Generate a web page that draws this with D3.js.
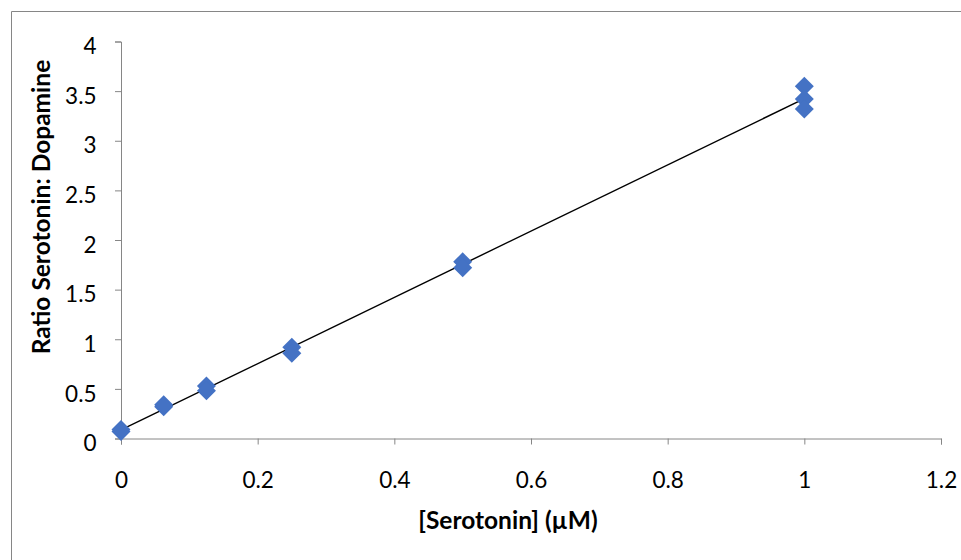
<!DOCTYPE html>
<html>
<head>
<meta charset="utf-8">
<script src="https://cdn.jsdelivr.net/npm/d3@7"></script>
<style>
  html, body { margin: 0; padding: 0; background: #fff; }
  svg { display: block; }
  text { font-family: Lato, "Open Sans", "Liberation Sans", sans-serif; fill: #000; }
</style>
</head>
<body>
<svg id="chart" width="961" height="560"></svg>
<script>
const xValues = [0, 0, 0.0625, 0.0625, 0.125, 0.125, 0.25, 0.25, 0.5, 0.5, 1, 1, 1];
const yValues = [0.07, 0.09, 0.32, 0.34, 0.53, 0.48, 0.92, 0.86, 1.78, 1.72, 3.55, 3.42, 3.32];
const xTicks = [0, 0.2, 0.4, 0.6, 0.8, 1, 1.2];
const yTicks = [0, 0.5, 1, 1.5, 2, 2.5, 3, 3.5, 4];
const xTitle = "[Serotonin] (\u00B5M)";
const yTitle = "Ratio Serotonin: Dopamine";

(function () {
const svg = d3.select("#chart");
const W = 961, H = 560;
const pLeft = 121, pRight = 941, pTop = 41.5, pBottom = 438.5;

// chart border (left and top visible)
svg.append("path")
  .attr("d", `M11.5,${H} V11.5 H${W}`)
  .attr("fill", "none").attr("stroke", "#868686").attr("stroke-width", 1);

const x = d3.scaleLinear().domain([0, 1.2]).range([pLeft, pRight]);
const y = d3.scaleLinear().domain([0, 4]).range([pBottom, pTop]);

const fmt = d => String(+d.toFixed(2));

const xAxis = svg.append("g").attr("transform", `translate(0,${pBottom})`)
  .call(d3.axisBottom(x).tickValues(xTicks).tickFormat(fmt).tickSizeInner(6).tickSizeOuter(6).tickPadding(28));
const yAxis = svg.append("g").attr("transform", `translate(${pLeft},0)`)
  .call(d3.axisLeft(y).tickValues(yTicks).tickFormat(fmt).tickSizeInner(6).tickSizeOuter(6).tickPadding(18.5));

[xAxis, yAxis].forEach(g => {
  g.selectAll("path, line").attr("stroke", "#868686").attr("stroke-width", 1);
  g.selectAll("text").attr("font-size", 22.5).attr("fill", "#000")
    .style("font-family", "Lato, 'Open Sans', sans-serif");
});
yAxis.selectAll("text").attr("y", 5);

// linear regression trendline
const n = xValues.length;
const mx = d3.mean(xValues), my = d3.mean(yValues);
let sxy = 0, sxx = 0;
for (let i = 0; i < n; i++) { sxy += (xValues[i]-mx)*(yValues[i]-my); sxx += (xValues[i]-mx)**2; }
const slope = sxy / sxx, intercept = my - slope * mx;
const xmin = d3.min(xValues), xmax = d3.max(xValues);
svg.append("line")
  .attr("x1", x(xmin)).attr("y1", y(intercept + slope*xmin))
  .attr("x2", x(xmax)).attr("y2", y(intercept + slope*xmax))
  .attr("stroke", "#000").attr("stroke-width", 1.4);

// diamond markers
const r = 9.5;
svg.append("g").selectAll("path").data(xValues.map((v,i)=>[v, yValues[i]])).join("path")
  .attr("d", d => { const cx = x(d[0]), cy = y(d[1]); return `M${cx},${cy-r}L${cx+r},${cy}L${cx},${cy+r}L${cx-r},${cy}Z`; })
  .attr("fill", "#4472C4");

svg.append("text").attr("x", 508).attr("y", 529)
  .attr("text-anchor", "middle").attr("font-size", 24.5).attr("font-weight", "bold").text(xTitle);
svg.append("text").attr("transform", `translate(50,207) rotate(-90)`)
  .attr("text-anchor", "middle").attr("font-size", 24.5).attr("font-weight", "bold").text(yTitle);
})();
</script>
</body>
</html>
